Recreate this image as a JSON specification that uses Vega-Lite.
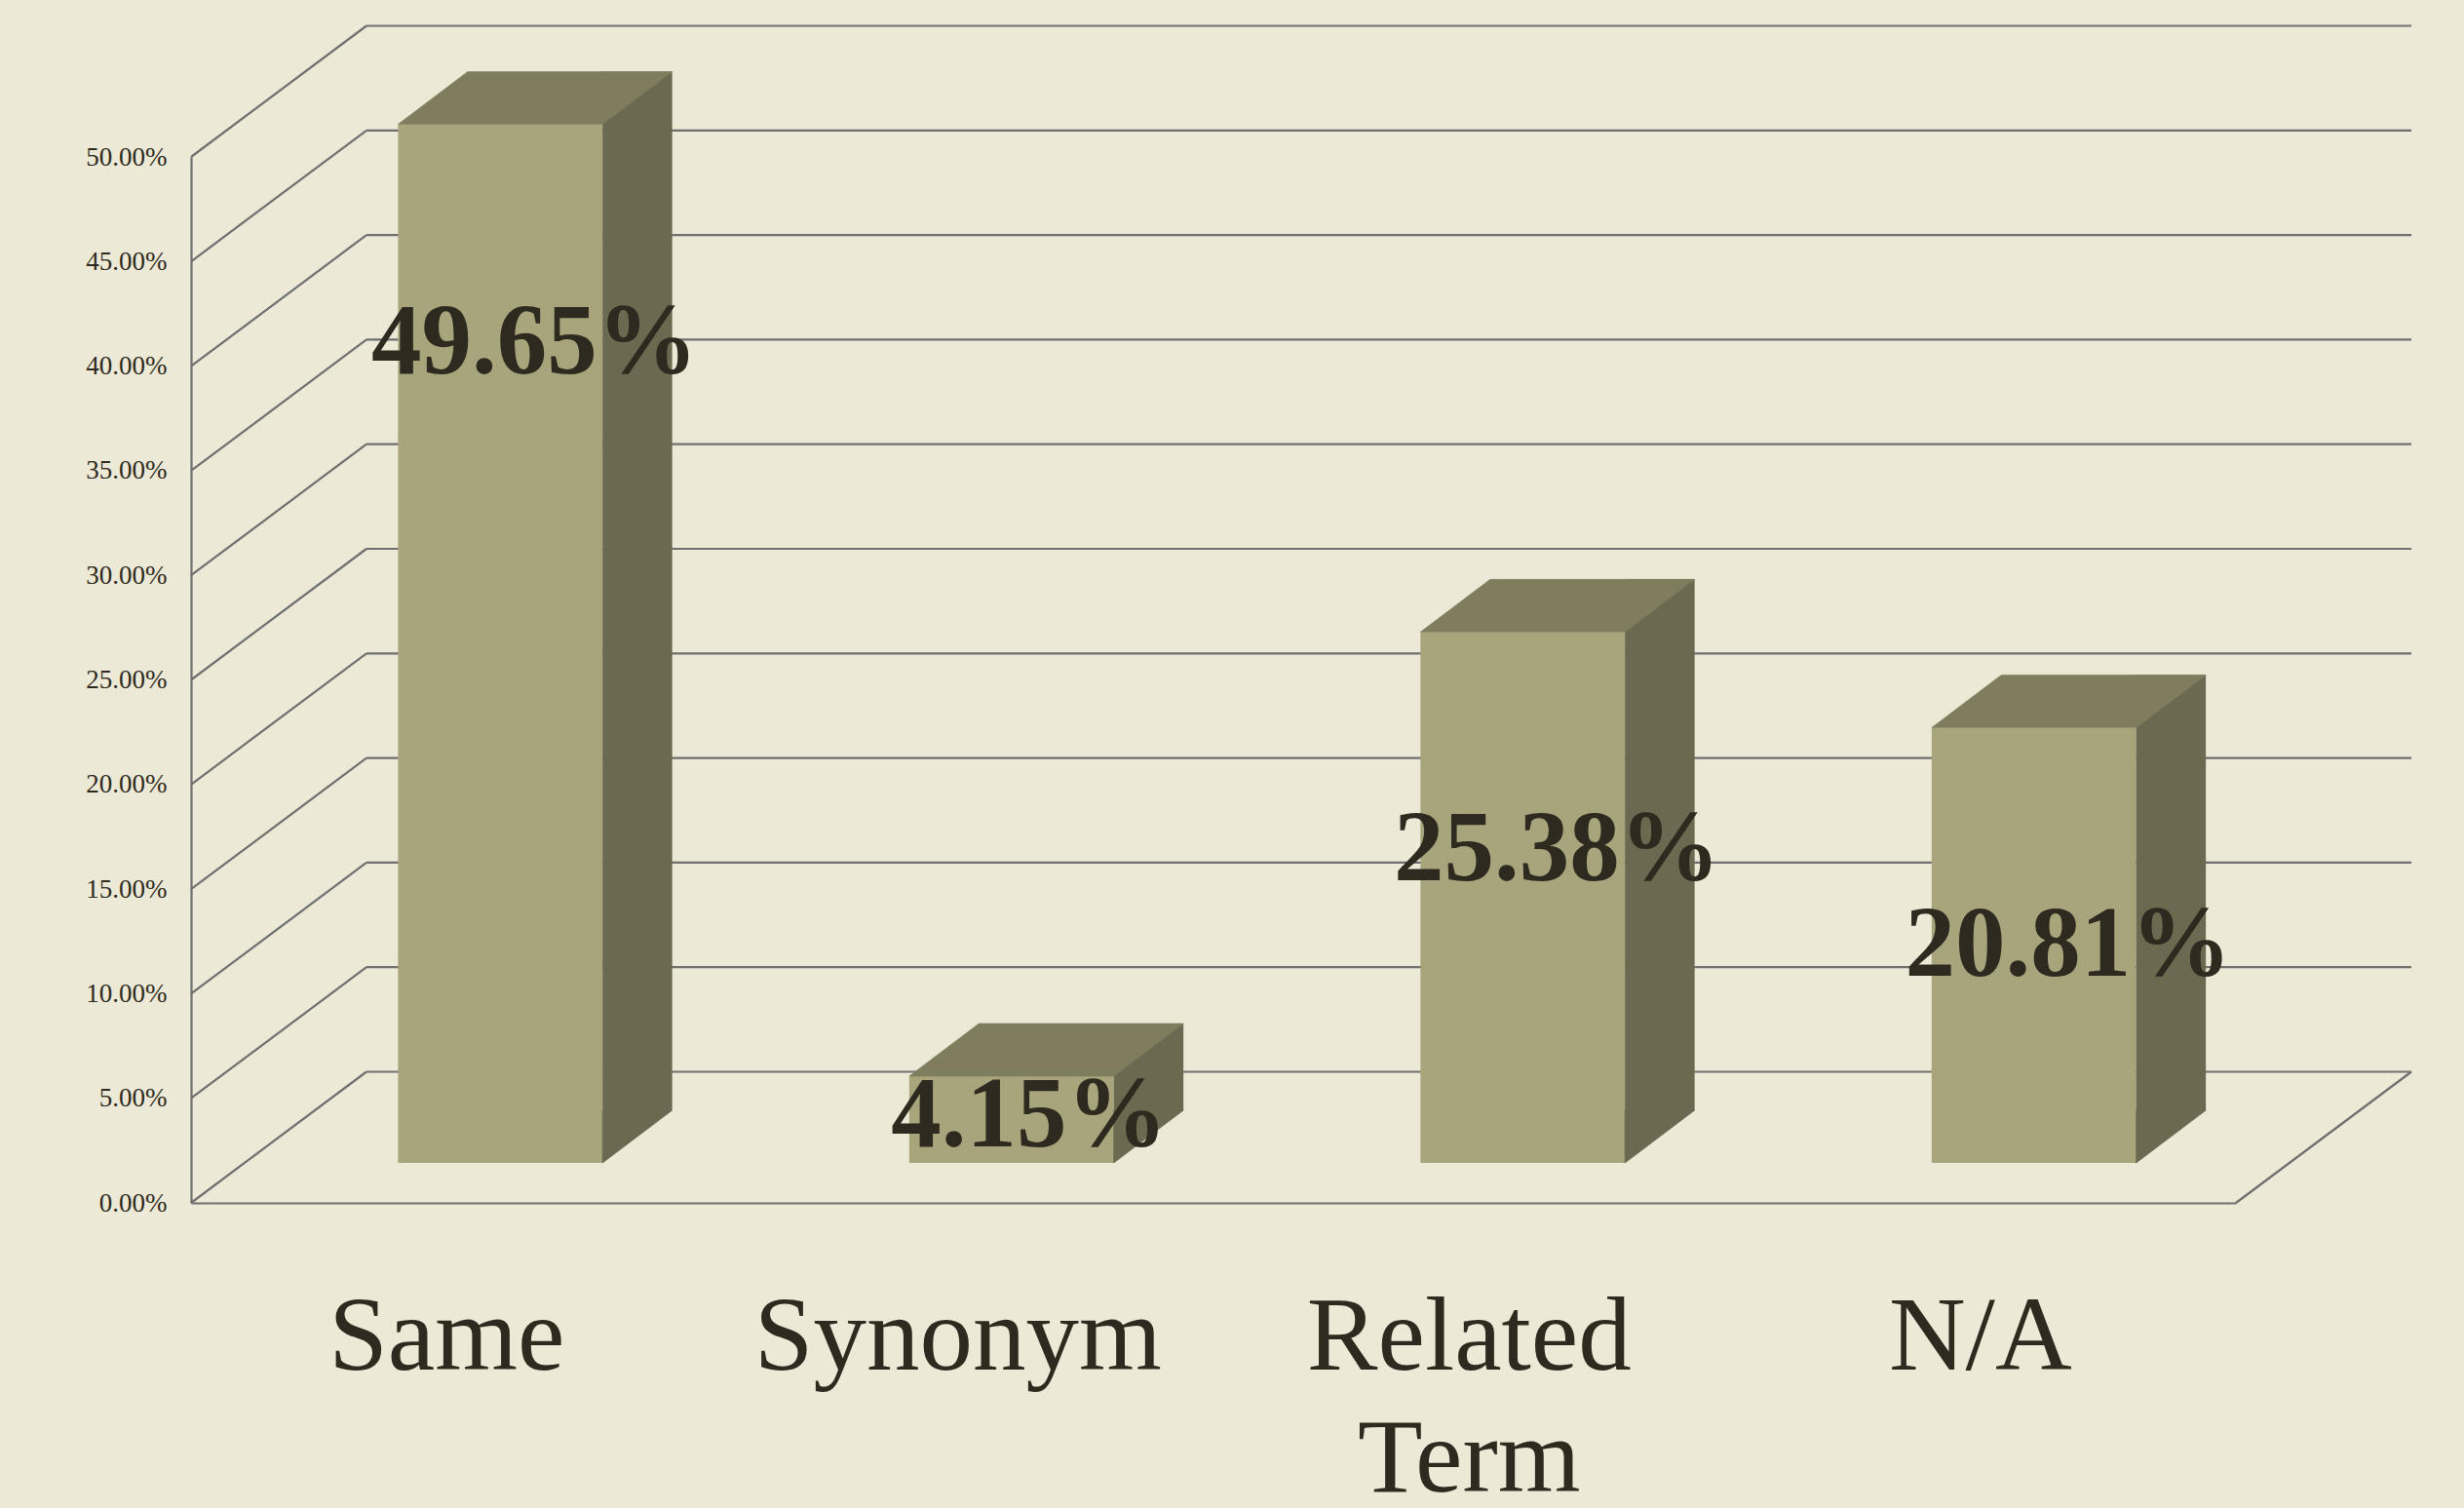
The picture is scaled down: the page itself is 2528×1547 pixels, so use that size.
{
  "$schema": "https://vega.github.io/schema/vega-lite/v6.json",
  "width": 2098,
  "height": 1073,
  "autosize": {"type": "none"},
  "padding": {"left": 196, "top": 161, "right": 234, "bottom": 313},
  "background": "#ECE9D6",
  "config": {"view": {"stroke": null}},
  "datasets": {
    "main": [
      {"category": "Same", "value": 0.4965},
      {"category": "Synonym", "value": 0.0415},
      {"category": "Related Term", "value": 0.2538},
      {"category": "N/A", "value": 0.2081}
    ],
    "grid": [
      {"v": 0}, {"v": 0.05}, {"v": 0.1}, {"v": 0.15}, {"v": 0.2}, {"v": 0.25},
      {"v": 0.3}, {"v": 0.35}, {"v": 0.4}, {"v": 0.45}, {"v": 0.5}
    ],
    "corner": [{"c": 1}]
  },
  "layer": [
    {
      "data": {"name": "grid"},
      "mark": {"type": "rule", "color": "#6F6F6F", "strokeWidth": 2.2, "xOffset": 180, "x2Offset": 180, "yOffset": -134.5},
      "encoding": {
        "x": {"datum": 0, "type": "quantitative", "scale": {"domain": [0, 1]}, "axis": null},
        "x2": {"datum": 1},
        "y": {
          "field": "v", "type": "quantitative",
          "scale": {"domain": [0, 0.5], "nice": false},
          "axis": {
            "title": null, "domain": true, "domainColor": "#6F6F6F", "domainWidth": 2.2,
            "ticks": false, "tickSize": 0, "grid": false,
            "values": [0, 0.05, 0.1, 0.15, 0.2, 0.25, 0.3, 0.35, 0.4, 0.45, 0.5],
            "format": ".2%", "labelFont": "Liberation Serif", "labelFontSize": 27,
            "labelColor": "#2E2A20", "labelPadding": 25, "labelBaseline": "middle"
          }
        }
      }
    },
    {
      "data": {"name": "grid"},
      "mark": {"type": "rule", "color": "#6F6F6F", "strokeWidth": 2.2, "x2Offset": 180, "y2Offset": -134.5},
      "encoding": {
        "x": {"datum": 0, "type": "quantitative", "scale": {"domain": [0, 1]}, "axis": null},
        "x2": {"datum": 0},
        "y": {"field": "v", "type": "quantitative", "scale": {"domain": [0, 0.5], "nice": false}},
        "y2": {"field": "v"}
      }
    },
    {
      "data": {"name": "corner"},
      "mark": {"type": "rule", "color": "#6F6F6F", "strokeWidth": 2.2, "x2Offset": 180, "y2Offset": -134.5},
      "encoding": {
        "x": {"datum": 1, "type": "quantitative", "scale": {"domain": [0, 1]}, "axis": null},
        "x2": {"datum": 1},
        "y": {"datum": 0, "type": "quantitative", "scale": {"domain": [0, 0.5], "nice": false}},
        "y2": {"datum": 0}
      }
    },
    {
      "data": {"name": "main"},
      "mark": {"type": "bar", "width": {"band": 0.4}, "xOffset": 55, "yOffset": -41, "y2Offset": -41, "color": "#A8A57C"},
      "encoding": {
        "x": {
          "field": "category", "type": "nominal", "sort": null,
          "scale": {"paddingInner": 0, "paddingOuter": 0},
          "axis": {
            "title": null, "orient": "bottom", "domain": true, "domainColor": "#6F6F6F", "domainWidth": 2.2,
            "ticks": false, "tickSize": 0, "grid": false,
            "labelFont": "Liberation Serif", "labelFontSize": 109, "labelColor": "#2E2A20",
            "labelAngle": 0, "labelBaseline": "top", "labelPadding": 84, "labelLimit": 1000,
            "labelLineHeight": 125, "labelOverlap": false,
            "labelExpr": "datum.value == 'Related Term' ? ['Related', 'Term'] : datum.label"
          }
        },
        "y": {"field": "value", "type": "quantitative", "scale": {"domain": [0, 0.5], "nice": false}},
        "y2": {"datum": 0}
      }
    },
    {
      "data": {"name": "main"},
      "mark": {"type": "bar", "width": 71.5, "xOffset": 195.65, "yOffset": -95, "y2Offset": -95, "color": "#6B6A50"},
      "encoding": {
        "x": {"field": "category", "type": "nominal", "sort": null, "scale": {"paddingInner": 0, "paddingOuter": 0}, "axis": null},
        "y": {"field": "value", "type": "quantitative", "scale": {"domain": [0, 0.5], "nice": false}},
        "y2": {"datum": 0}
      }
    },
    {
      "data": {"name": "main"},
      "mark": {"type": "point", "shape": "M0,0 L0,-0.54 L0.715,-0.54 Z", "size": 40000, "filled": true, "fill": "#6B6A50", "stroke": "#6B6A50", "strokeWidth": 0.8, "opacity": 1, "xOffset": 159.9, "yOffset": -41},
      "encoding": {
        "x": {"field": "category", "type": "nominal", "sort": null, "scale": {"paddingInner": 0, "paddingOuter": 0}, "axis": null},
        "y": {"datum": 0, "type": "quantitative", "scale": {"domain": [0, 0.5], "nice": false}}
      }
    },
    {
      "data": {"name": "main"},
      "mark": {"type": "point", "shape": "M-1.049,0 L1.049,0 L1.764,-0.54 L-0.334,-0.54 Z", "size": 40000, "filled": true, "fill": "#7F7D5E", "stroke": "#7F7D5E", "strokeWidth": 0.6, "opacity": 1, "xOffset": 55, "yOffset": -41},
      "encoding": {
        "x": {"field": "category", "type": "nominal", "sort": null, "scale": {"paddingInner": 0, "paddingOuter": 0}, "axis": null},
        "y": {"field": "value", "type": "quantitative", "scale": {"domain": [0, 0.5], "nice": false}}
      }
    },
    {
      "data": {"name": "main"},
      "transform": [{"filter": "datum.category != 'Synonym'"}],
      "mark": {"type": "text", "font": "Liberation Serif", "fontWeight": "bold", "fontSize": 103, "color": "#2E2A20", "align": "center", "baseline": "alphabetic", "dx": 90, "dy": 214},
      "encoding": {
        "x": {"field": "category", "type": "nominal", "sort": ["Same", "Synonym", "Related Term", "N/A"], "scale": {"domain": ["Same", "Synonym", "Related Term", "N/A"], "paddingInner": 0, "paddingOuter": 0}, "axis": null},
        "y": {"field": "value", "type": "quantitative", "scale": {"domain": [0, 0.5], "nice": false}},
        "text": {"field": "value", "type": "quantitative", "format": ".2%"}
      }
    },
    {
      "data": {"name": "main"},
      "transform": [{"filter": "datum.category == 'Synonym'"}],
      "mark": {"type": "text", "font": "Liberation Serif", "fontWeight": "bold", "fontSize": 103, "color": "#2E2A20", "align": "center", "baseline": "alphabetic", "dx": 73, "dy": 31.5},
      "encoding": {
        "x": {"field": "category", "type": "nominal", "sort": ["Same", "Synonym", "Related Term", "N/A"], "scale": {"domain": ["Same", "Synonym", "Related Term", "N/A"], "paddingInner": 0, "paddingOuter": 0}, "axis": null},
        "y": {"field": "value", "type": "quantitative", "scale": {"domain": [0, 0.5], "nice": false}},
        "text": {"field": "value", "type": "quantitative", "format": ".2%"}
      }
    }
  ],
  "resolve": {"scale": {"x": "independent"}}
}
